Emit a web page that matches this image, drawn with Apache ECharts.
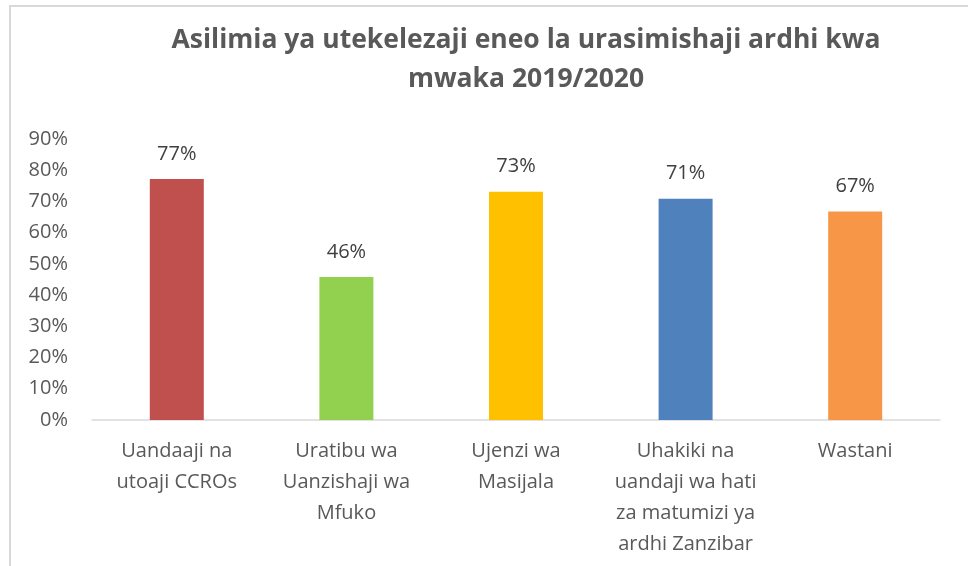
<!DOCTYPE html>
<html>
<head>
<meta charset="utf-8">
<script src="https://cdn.jsdelivr.net/npm/echarts@6/dist/echarts.min.js"></script>
<style>
  html, body { margin: 0; padding: 0; background: #fff; }
  #echarts { width: 968px; height: 566px; }
</style>
</head>
<body>
<div id="echarts"></div>
<script>
const categories = [
    'Uandaaji na\nutoaji CCROs',
    'Uratibu wa\nUanzishaji wa\nMfuko',
    'Ujenzi wa\nMasijala',
    'Uhakiki na\nuandaji wa hati\nza matumizi ya\nardhi Zanzibar',
    'Wastani'
];
const values = [77.2, 45.8, 73.1, 70.9, 66.8];
const labels = ['77%', '46%', '73%', '71%', '67%'];
const colors = ['#C0504D', '#92D050', '#FFC000', '#4F81BD', '#F79646'];

const chartDom = document.getElementById('echarts');
const myChart = echarts.init(chartDom);
const font = 'Open Sans';

let option = {
    animation: false,
    // 标题
    title: {
        text: 'Asilimia ya utekelezaji eneo la urasimishaji ardhi kwa\nmwaka 2019/2020',
        left: 521,
        top: 16,
        textAlign: 'center',
        textStyle: {
            fontFamily: font,
            fontWeight: 'bold',
            fontSize: 26.5,
            lineHeight: 39,
            color: '#595959'
        }
    },
    // 外框 (图片被裁剪, 只看到左边和上边)
    graphic: [{
        type: 'rect',
        shape: { x: 10, y: 6, width: 1000, height: 600 },
        style: { fill: 'none', stroke: '#D9D9D9', lineWidth: 2 },
        silent: true
    }],
    grid: {
        left: 92,
        right: 28,
        top: 139,
        bottom: 146
    },
    xAxis: {
        type: 'category',
        data: categories,
        axisLine: { lineStyle: { color: '#D9D9D9', width: 1.5 } },
        axisTick: { show: false },
        axisLabel: {
            interval: 0,
            margin: 16,
            fontFamily: font,
            fontSize: 20,
            lineHeight: 31,
            color: '#595959'
        }
    },
    yAxis: {
        type: 'value',
        min: 0,
        max: 90,
        interval: 10,
        splitLine: { show: false },
        axisLine: { show: false },
        axisTick: { show: false },
        axisLabel: {
            margin: 24,
            fontFamily: font,
            fontSize: 20,
            color: '#595959',
            formatter: '{value}%'
        }
    },
    series: [{
        type: 'bar',
        barWidth: 54,
        data: values.map((v, i) => ({
            value: v,
            itemStyle: { color: colors[i] }
        })),
        label: {
            show: true,
            position: 'top',
            distance: 15,
            fontFamily: font,
            fontSize: 20,
            color: '#404040',
            formatter: (params) => labels[params.dataIndex]
        }
    }]
};
option && myChart.setOption(option);
</script>
</body>
</html>
